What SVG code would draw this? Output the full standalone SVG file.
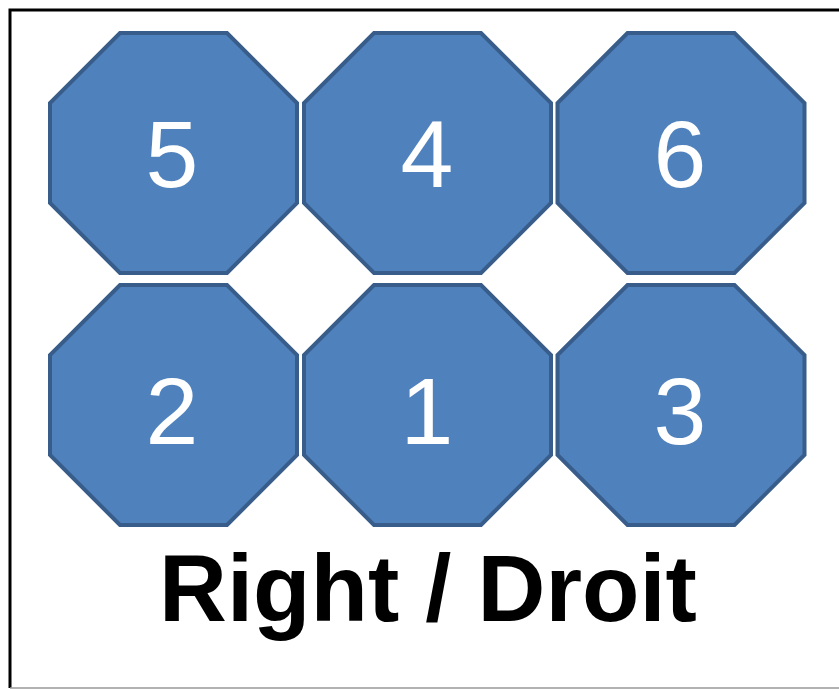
<svg xmlns="http://www.w3.org/2000/svg" width="839" height="689" viewBox="0 0 839 689">
<style>
.oct{fill:#4F81BD;stroke:#385D8A;stroke-width:4;stroke-linejoin:miter}
.num{font-family:"Liberation Sans",Arial,sans-serif;font-size:95px;fill:#FFFFFF;text-anchor:middle}
.title{font-family:"Liberation Sans",Arial,sans-serif;font-size:94px;font-weight:bold;fill:#000000;text-anchor:middle}
</style>
<defs>
<path id="octagon" class="oct" d="M70,0 H177 L247,70 V170 L177,240 H70 L0,170 V70 Z"/>
</defs>
<rect x="0" y="0" width="839" height="689" fill="#FFFFFF"/>
<g id="frame">
<path d="M839,10 H10 V688" fill="none" stroke="#000000" stroke-width="3"/>
<path d="M10,688 H839" fill="none" stroke="#999999" stroke-width="1.5"/>
</g>
<g id="connectors"></g>
<g id="node-5"><use href="#octagon" x="50" y="33"/><text class="num" x="172" y="187">5</text></g>
<g id="node-4"><use href="#octagon" x="304" y="33"/><text class="num" x="427" y="187">4</text></g>
<g id="node-6"><use href="#octagon" x="557.5" y="33"/><text class="num" x="680" y="187">6</text></g>
<g id="node-2"><use href="#octagon" x="50" y="285"/><text class="num" x="172" y="444">2</text></g>
<g id="node-1"><use href="#octagon" x="304" y="285"/><text class="num" x="427" y="444">1</text></g>
<g id="node-3"><use href="#octagon" x="557.5" y="285"/><text class="num" x="680" y="444">3</text></g>
<g id="label"><text class="title" x="428" y="621">Right / Droit</text></g>
</svg>
